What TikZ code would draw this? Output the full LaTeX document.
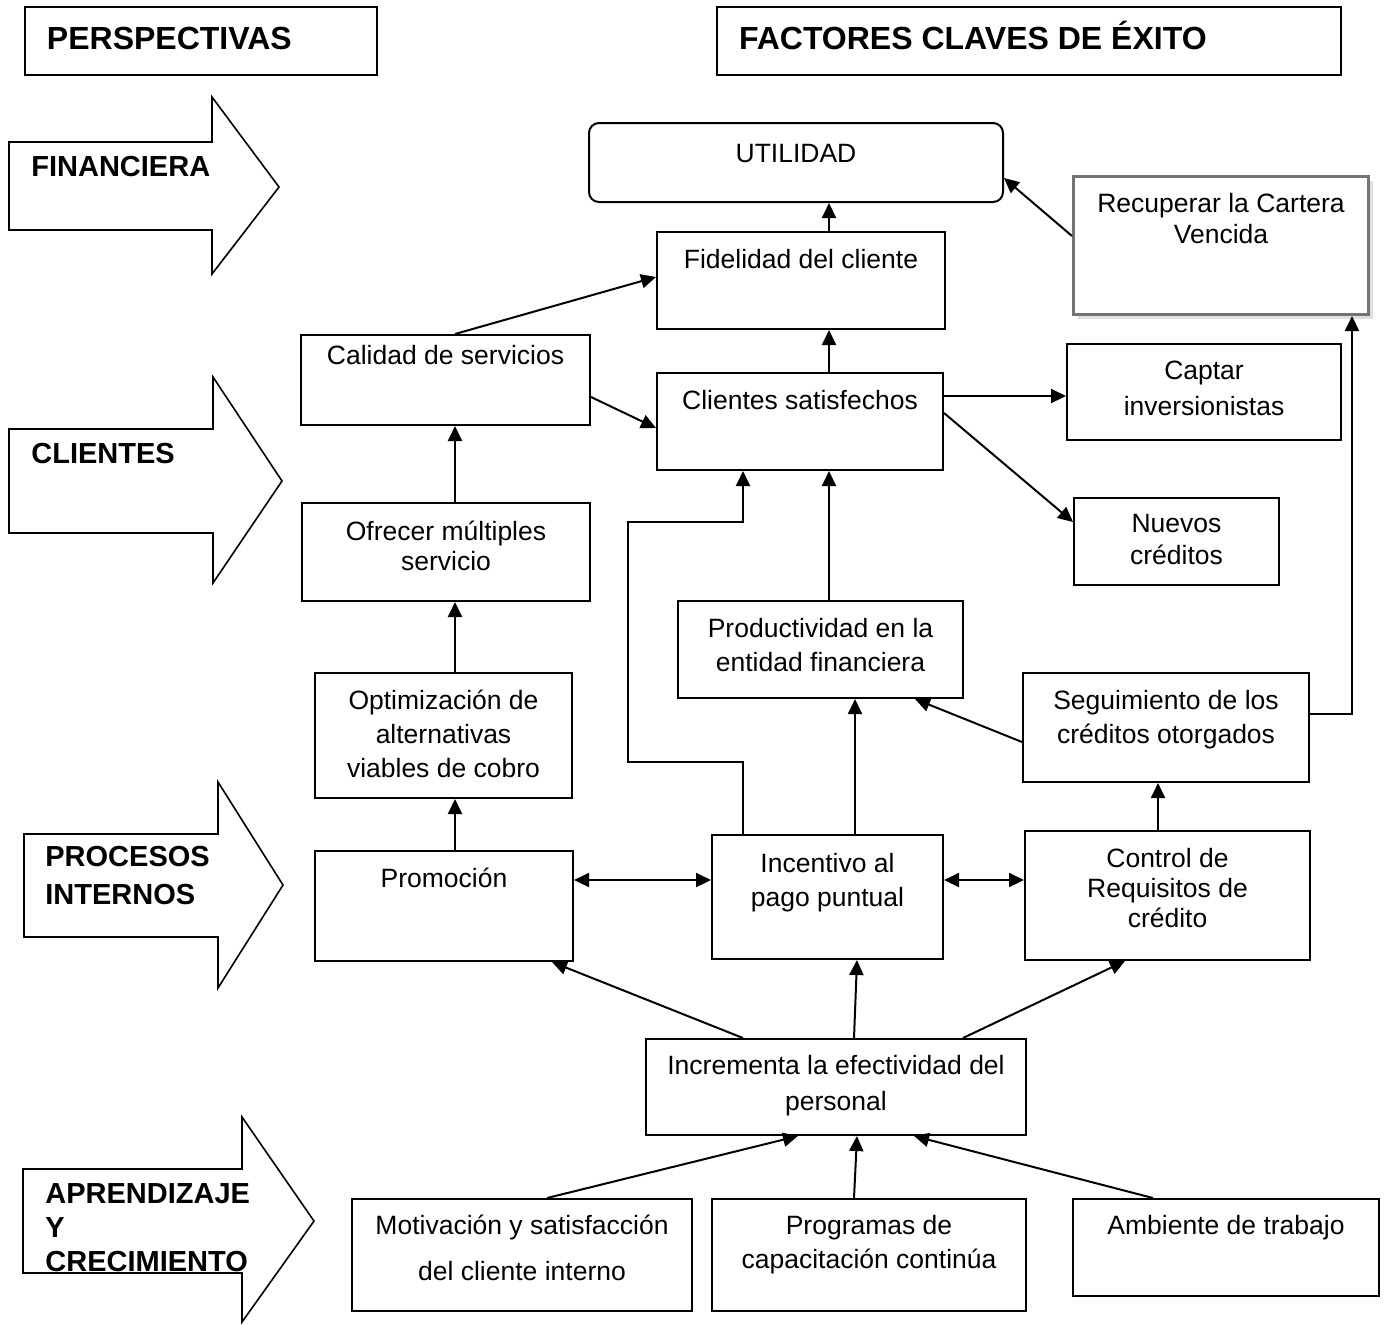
\documentclass[tikz,border=0pt]{standalone}
\usepackage{fontspec}
\setmainfont{Liberation Sans}
\usetikzlibrary{arrows.meta, shadows}
\newlength{\px}
\setlength{\px}{0.5pt}
% box text: [first baseline]{width}{height}{text}
\newcommand{\cajatexto}[4][36]{\parbox[c][#3\px][t]{#2\px}{\centering\rule{0pt}{#1\px}#4\par}}
\newcommand{\titulotexto}[3]{\parbox[c][#2\px][t]{#1\px}{\rule{0pt}{42\px}\hspace*{22\px}#3}}
\newcommand{\etiqueta}[1]{\parbox[t]{240\px}{\raggedright #1}}
\tikzstyle{caja}        = [rectangle, draw=black, line width=1pt, fill=white, inner sep=0pt, anchor=north west, font=\fontsize{13.25pt}{17pt}\selectfont]
\tikzstyle{titulo}      = [rectangle, draw=black, line width=1pt, inner sep=0pt, anchor=north west, font=\fontsize{16pt}{19pt}\selectfont\bfseries]
\tikzstyle{perspectiva} = [anchor=base west, inner sep=0pt, font=\fontsize{14.5pt}{17pt}\selectfont\bfseries]
\tikzstyle{bloque}      = [draw=black, line width=0.8pt, fill=white, line join=miter]
\tikzstyle{flecha}      = [line width=1pt, -{Triangle[length=7.5pt, width=7pt]}]
\tikzstyle{doble}       = [line width=1pt, {Triangle[length=7.5pt, width=7pt]}-{Triangle[length=7.5pt, width=7pt]}]

\begin{document}
\begin{tikzpicture}[x=0.5pt, y=-0.5pt]
    \useasboundingbox (0,0) rectangle (1384,1324);

    % headers
    \node (perspectivas) [titulo] at (24,6)  {\titulotexto{352}{68}{PERSPECTIVAS}};
    \node (factores)     [titulo] at (716,6) {\titulotexto{624}{68}{FACTORES CLAVES DE ÉXITO}};

    % perspective arrows
    \draw [bloque] (9,142) -- (212,142) -- (212,97) -- (279,187) -- (212,274) -- (212,230) -- (9,230) -- cycle;
    \draw [bloque] (9,429) -- (213,429) -- (213,377) -- (282,481) -- (213,583) -- (213,533) -- (9,533) -- cycle;
    \draw [bloque] (24,834) -- (218,834) -- (218,782) -- (283,885) -- (218,988) -- (218,937) -- (24,937) -- cycle;
    \draw [bloque] (23,1169) -- (242,1169) -- (242,1117) -- (314,1221) -- (242,1322) -- (242,1273) -- (23,1273) -- cycle;
    \node (financiera)  [perspectiva] at (31,176)  {\etiqueta{FINANCIERA}};
    \node (clientesp)   [perspectiva] at (31,463)  {\etiqueta{CLIENTES}};
    \node (procesos)    [perspectiva] at (45,866)  {\etiqueta{PROCESOS\\[2pt]INTERNOS}};
    \node (aprendizaje) [perspectiva] at (45,1203) {\etiqueta{APRENDIZAJE\\Y\\CRECIMIENTO}};

    % factors
    \node (utilidad)   [caja, rounded corners=5pt] at (588,122) {\cajatexto[39]{414}{79}{UTILIDAD}};
    \node (fidelidad)  [caja] at (656,231)  {\cajatexto{288}{97}{Fidelidad del cliente}};
    \node (recuperar)  [caja, draw=black!55, line width=1.5pt, drop shadow={shadow xshift=2pt, shadow yshift=-2pt, fill=black!25}] at (1072,175) {\cajatexto{295}{138}{Recuperar la Cartera\\[-1.5pt]Vencida}};
    \node (calidad)    [caja] at (300,334)  {\cajatexto[29]{289}{90}{Calidad de servicios}};
    \node (clientes)   [caja] at (656,372)  {\cajatexto{286}{97}{Clientes satisfechos}};
    \node (captar)     [caja] at (1066,343) {\cajatexto[35]{274}{96}{Captar\\[1pt]inversionistas}};
    \node (nuevos)     [caja] at (1073,497) {\cajatexto[34]{205}{87}{Nuevos\\[-1pt]créditos}};
    \node (ofrecer)    [caja] at (301,502)  {\cajatexto[37]{288}{98}{Ofrecer múltiples\\[-2pt]servicio}};
    \node (product)    [caja] at (677,600)  {\cajatexto{285}{97}{Productividad en la\\entidad financiera}};
    \node (optim)      [caja] at (314,672)  {\cajatexto{257}{125}{Optimización de\\alternativas\\viables de cobro}};
    \node (seguim)     [caja] at (1022,672) {\cajatexto{286}{109}{Seguimiento de los\\créditos otorgados}};
    \node (promo)      [caja] at (314,850)  {\cajatexto{258}{110}{Promoción}};
    \node (incentivo)  [caja] at (711,834)  {\cajatexto[37]{231}{124}{Incentivo al\\pago puntual}};
    \node (control)    [caja] at (1024,830) {\cajatexto{285}{129}{Control de\\[-2pt]Requisitos de\\[-2pt]crédito}};
    \node (increm)     [caja] at (645,1038) {\cajatexto[35]{380}{96}{Incrementa la efectividad del\\[1pt]personal}};
    \node (motiv)      [caja] at (351,1198) {\cajatexto[35]{340}{112}{Motivación y satisfacción\\[6pt]del cliente interno}};
    \node (program)    [caja] at (711,1198) {\cajatexto[35]{314}{112}{Programas de\\capacitación continúa}};
    \node (ambiente)   [caja] at (1072,1198) {\cajatexto[35]{306}{97}{Ambiente de trabajo}};

    % connectors
    \draw [flecha] (fidelidad.north -| 829,0) -- (utilidad.south -| 829,0);
    \draw [flecha] (recuperar.west |- 0,236) -- (utilidad.east |- 0,178);
    \draw [flecha] (calidad.north -| 455,0) -- (fidelidad.west |- 0,277);
    \draw [flecha] (clientes.north -| 829,0) -- (fidelidad.south -| 829,0);
    \draw [flecha] (calidad.east |- 0,397) -- (clientes.west |- 0,428);
    \draw [flecha] (clientes.east |- 0,396) -- (captar.west |- 0,396);
    \draw [flecha] (clientes.east |- 0,413) -- (nuevos.west |- 0,522);
    \draw [flecha] (ofrecer.north -| 455,0) -- (calidad.south -| 455,0);
    \draw [flecha] (optim.north -| 455,0) -- (ofrecer.south -| 455,0);
    \draw [flecha] (promo.north -| 455,0) -- (optim.south -| 455,0);
    \draw [flecha] (product.north -| 829,0) -- (clientes.south -| 829,0);
    \draw [flecha] (incentivo.north -| 743,0) -- ++(0,-72) -| (628,522) -| (clientes.south -| 743,0);
    \draw [flecha] (incentivo.north -| 855,0) -- (product.south -| 855,0);
    \draw [flecha] (seguim.west |- 0,742) -- (product.south -| 915,0);
    \draw [flecha] (seguim.east |- 0,714) -| (recuperar.south -| 1352,0);
    \draw [flecha] (control.north -| 1158,0) -- (seguim.south -| 1158,0);
    \draw [doble]  (promo.east |- 0,880) -- (incentivo.west |- 0,880);
    \draw [doble]  (incentivo.east |- 0,880) -- (control.west |- 0,880);
    \draw [flecha] (increm.north -| 743,0) -- (promo.south -| 552,0);
    \draw [flecha] (increm.north -| 854,0) -- (incentivo.south -| 857,0);
    \draw [flecha] (increm.north -| 963,0) -- (control.south -| 1125,0);
    \draw [flecha] (motiv.north -| 547,0) -- (increm.south -| 798,0);
    \draw [flecha] (program.north -| 854,0) -- (increm.south -| 857,0);
    \draw [flecha] (ambiente.north -| 1153,0) -- (increm.south -| 914,0);
\end{tikzpicture}
\end{document}
